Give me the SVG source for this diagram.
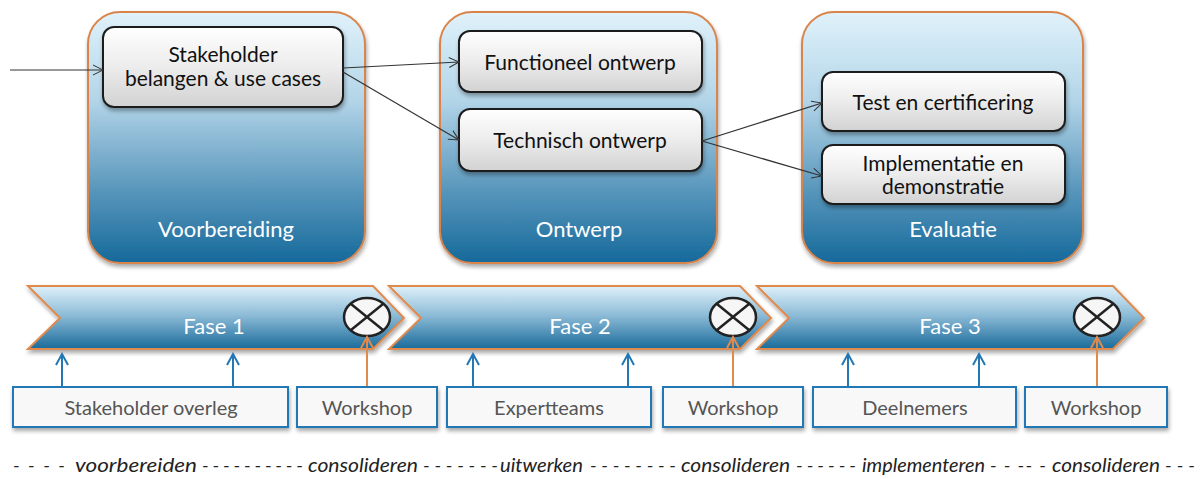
<svg xmlns="http://www.w3.org/2000/svg" width="1203" height="479" viewBox="0 0 1203 479">
<defs>
<linearGradient id="gBig" x1="0" y1="0" x2="0" y2="1">
<stop offset="0" stop-color="#e0f2fb"/>
<stop offset="0.35" stop-color="#b3d5e8"/>
<stop offset="0.7" stop-color="#5b98bd"/>
<stop offset="1" stop-color="#15699b"/>
</linearGradient>
<linearGradient id="gChev" x1="0" y1="0" x2="0" y2="1">
<stop offset="0" stop-color="#dff1fa"/>
<stop offset="0.45" stop-color="#8fbdd8"/>
<stop offset="1" stop-color="#1a6b9b"/>
</linearGradient>
<linearGradient id="gInner" x1="0" y1="0" x2="0" y2="1">
<stop offset="0" stop-color="#ffffff"/>
<stop offset="0.5" stop-color="#ececec"/>
<stop offset="1" stop-color="#d2d2d2"/>
</linearGradient>
<filter id="sh" x="-10%" y="-10%" width="125%" height="130%">
<feGaussianBlur in="SourceAlpha" stdDeviation="2"/>
<feOffset dx="1" dy="3" result="b"/>
<feComponentTransfer><feFuncA type="linear" slope="0.35"/></feComponentTransfer>
<feMerge><feMergeNode/><feMergeNode in="SourceGraphic"/></feMerge>
</filter>
<marker id="ah" markerWidth="12" markerHeight="12" refX="11" refY="6" orient="auto" markerUnits="userSpaceOnUse">
<path d="M1,1 L11,6 L1,11" fill="none" stroke="#333" stroke-width="1"/>
</marker>
<marker id="ahB" markerWidth="14" markerHeight="14" refX="12" refY="7" orient="auto" markerUnits="userSpaceOnUse">
<path d="M1,1 L12,7 L1,13" fill="none" stroke="#2378b4" stroke-width="2"/>
</marker>
<marker id="ahO" markerWidth="14" markerHeight="14" refX="12" refY="7" orient="auto" markerUnits="userSpaceOnUse">
<path d="M1,1 L12,7 L1,13" fill="none" stroke="#e08a4e" stroke-width="2"/>
</marker>
<style>
.big{fill:url(#gBig);stroke:#d9844b;stroke-width:2;filter:url(#sh)}
.inner{fill:url(#gInner);stroke:#1e1e1e;stroke-width:2;filter:url(#sh)}
.chev{fill:url(#gChev);stroke:#e08a4e;stroke-width:2;filter:url(#sh)}
.bot{fill:#f8f8f8;stroke:#2378b4;stroke-width:2;filter:url(#sh)}
.t{font-family:Lato,"Liberation Sans",sans-serif;font-size:21px;fill:#111;text-anchor:middle}
.w{font-family:Lato,"Liberation Sans",sans-serif;font-size:22px;fill:#fff;text-anchor:middle}
.g{font-family:Lato,"Liberation Sans",sans-serif;font-size:20px;fill:#555;text-anchor:middle}
.it{font-family:Lato,"Liberation Sans",sans-serif;font-size:19px;font-style:italic;fill:#222}
.c{fill:none;stroke:#333;stroke-width:1.2}
.cb{fill:none;stroke:#2378b4;stroke-width:2}
.co{fill:none;stroke:#e08a4e;stroke-width:2}
.mark{fill:#f6f6f6;stroke:#222;stroke-width:2.5}
</style>
</defs>
<rect width="1203" height="479" fill="#fff"/>

<g id="voorbereiding">
<rect class="big" x="88" y="12" width="277" height="251" rx="32"/>
<text class="w" x="226" y="237">Voorbereiding</text>
</g>
<g id="ontwerp">
<rect class="big" x="440" y="12" width="277" height="251" rx="32"/>
<text class="w" x="579" y="237">Ontwerp</text>
</g>
<g id="evaluatie">
<rect class="big" x="802" y="12" width="281" height="251" rx="32"/>
<text class="w" x="953" y="237">Evaluatie</text>
</g>

<g id="stakeholder">
<rect class="inner" x="103" y="27" width="240" height="80" rx="11"/>
<text class="t" x="223" y="62">Stakeholder</text>
<text class="t" x="223" y="86">belangen &amp; use cases</text>
</g>
<g id="functioneel">
<rect class="inner" x="459" y="31" width="243" height="61" rx="11"/>
<text class="t" x="580" y="70">Functioneel ontwerp</text>
</g>
<g id="technisch">
<rect class="inner" x="459" y="109" width="243" height="62" rx="11"/>
<text class="t" x="580" y="148">Technisch ontwerp</text>
</g>
<g id="test">
<rect class="inner" x="822" y="72" width="243" height="59" rx="11"/>
<text class="t" x="943" y="110">Test en certificering</text>
</g>
<g id="implementatie">
<rect class="inner" x="822" y="145" width="243" height="59" rx="11"/>
<text class="t" x="943" y="171">Implementatie en</text>
<text class="t" x="943" y="194">demonstratie</text>
</g>

<g id="fase1">
<path class="chev" d="M28,286 L373,286 L404,318 L373,349 L28,349 L60,318 Z"/>
<text class="w" x="214" y="334">Fase 1</text>
<ellipse class="mark" cx="367" cy="317" rx="23" ry="19"/>
<path d="M351,304 L383,330 M383,304 L351,330" stroke="#222" stroke-width="2.5"/>
</g>
<g id="fase2">
<path class="chev" d="M389,286 L740,286 L771,318 L740,349 L389,349 L421,318 Z"/>
<text class="w" x="580" y="334">Fase 2</text>
<ellipse class="mark" cx="733" cy="317" rx="23" ry="19"/>
<path d="M717,304 L749,330 M749,304 L717,330" stroke="#222" stroke-width="2.5"/>
</g>
<g id="fase3">
<path class="chev" d="M757,286 L1113,286 L1144,318 L1113,349 L757,349 L789,318 Z"/>
<text class="w" x="950" y="334">Fase 3</text>
<ellipse class="mark" cx="1097" cy="317" rx="23" ry="19"/>
<path d="M1081,304 L1113,330 M1113,304 L1081,330" stroke="#222" stroke-width="2.5"/>
</g>

<g id="stakeholder-overleg">
<rect class="bot" x="13" y="387" width="275" height="40"/>
<text class="g" x="151" y="415">Stakeholder overleg</text>
</g>
<g id="workshop1">
<rect class="bot" x="297" y="387" width="140" height="40"/>
<text class="g" x="367" y="415">Workshop</text>
</g>
<g id="expertteams">
<rect class="bot" x="447" y="387" width="204" height="40"/>
<text class="g" x="549" y="415">Expertteams</text>
</g>
<g id="workshop2">
<rect class="bot" x="663" y="387" width="140" height="40"/>
<text class="g" x="733" y="415">Workshop</text>
</g>
<g id="deelnemers">
<rect class="bot" x="813" y="387" width="203" height="40"/>
<text class="g" x="915" y="415">Deelnemers</text>
</g>
<g id="workshop3">
<rect class="bot" x="1025" y="387" width="142" height="40"/>
<text class="g" x="1096" y="415">Workshop</text>
</g>

<g id="connectors">
<line class="c" x1="10" y1="70" x2="103" y2="70" marker-end="url(#ah)"/>
<line class="c" x1="343" y1="68" x2="459" y2="62" marker-end="url(#ah)"/>
<line class="c" x1="343" y1="72" x2="459" y2="140" marker-end="url(#ah)"/>
<line class="c" x1="702" y1="141" x2="822" y2="103" marker-end="url(#ah)"/>
<line class="c" x1="702" y1="141" x2="822" y2="176" marker-end="url(#ah)"/>
<line class="cb" x1="62" y1="386" x2="62" y2="354" marker-end="url(#ahB)"/>
<line class="cb" x1="233" y1="386" x2="233" y2="354" marker-end="url(#ahB)"/>
<line class="cb" x1="473" y1="386" x2="473" y2="354" marker-end="url(#ahB)"/>
<line class="cb" x1="628" y1="386" x2="628" y2="354" marker-end="url(#ahB)"/>
<line class="cb" x1="848" y1="386" x2="848" y2="354" marker-end="url(#ahB)"/>
<line class="cb" x1="979" y1="386" x2="979" y2="354" marker-end="url(#ahB)"/>
<line class="co" x1="367" y1="386" x2="367" y2="337" marker-end="url(#ahO)"/>
<line class="co" x1="733" y1="386" x2="733" y2="337" marker-end="url(#ahO)"/>
<line class="co" x1="1097" y1="386" x2="1097" y2="337" marker-end="url(#ahO)"/>
</g>

<text class="it" y="472"><tspan x="13" textLength="52" lengthAdjust="spacing">- - - -</tspan><tspan x="75" textLength="122" lengthAdjust="spacingAndGlyphs">voorbereiden</tspan><tspan x="202" textLength="101" lengthAdjust="spacing">- - - - - - - - - -</tspan><tspan x="308" textLength="110" lengthAdjust="spacingAndGlyphs">consolideren</tspan><tspan x="423" textLength="75" lengthAdjust="spacing">- - - - - - -</tspan><tspan x="500" textLength="83" lengthAdjust="spacingAndGlyphs">uitwerken</tspan><tspan x="590" textLength="86" lengthAdjust="spacing">- - - - - - - -</tspan><tspan x="681" textLength="109" lengthAdjust="spacingAndGlyphs">consolideren</tspan><tspan x="796" textLength="60" lengthAdjust="spacing">- - - - - -</tspan><tspan x="862" textLength="123" lengthAdjust="spacingAndGlyphs">implementeren</tspan><tspan x="990" textLength="56" lengthAdjust="spacing">- - -- -</tspan><tspan x="1052" textLength="108" lengthAdjust="spacingAndGlyphs">consolideren</tspan><tspan x="1165" textLength="30" lengthAdjust="spacing">- - -</tspan></text>
</svg>
